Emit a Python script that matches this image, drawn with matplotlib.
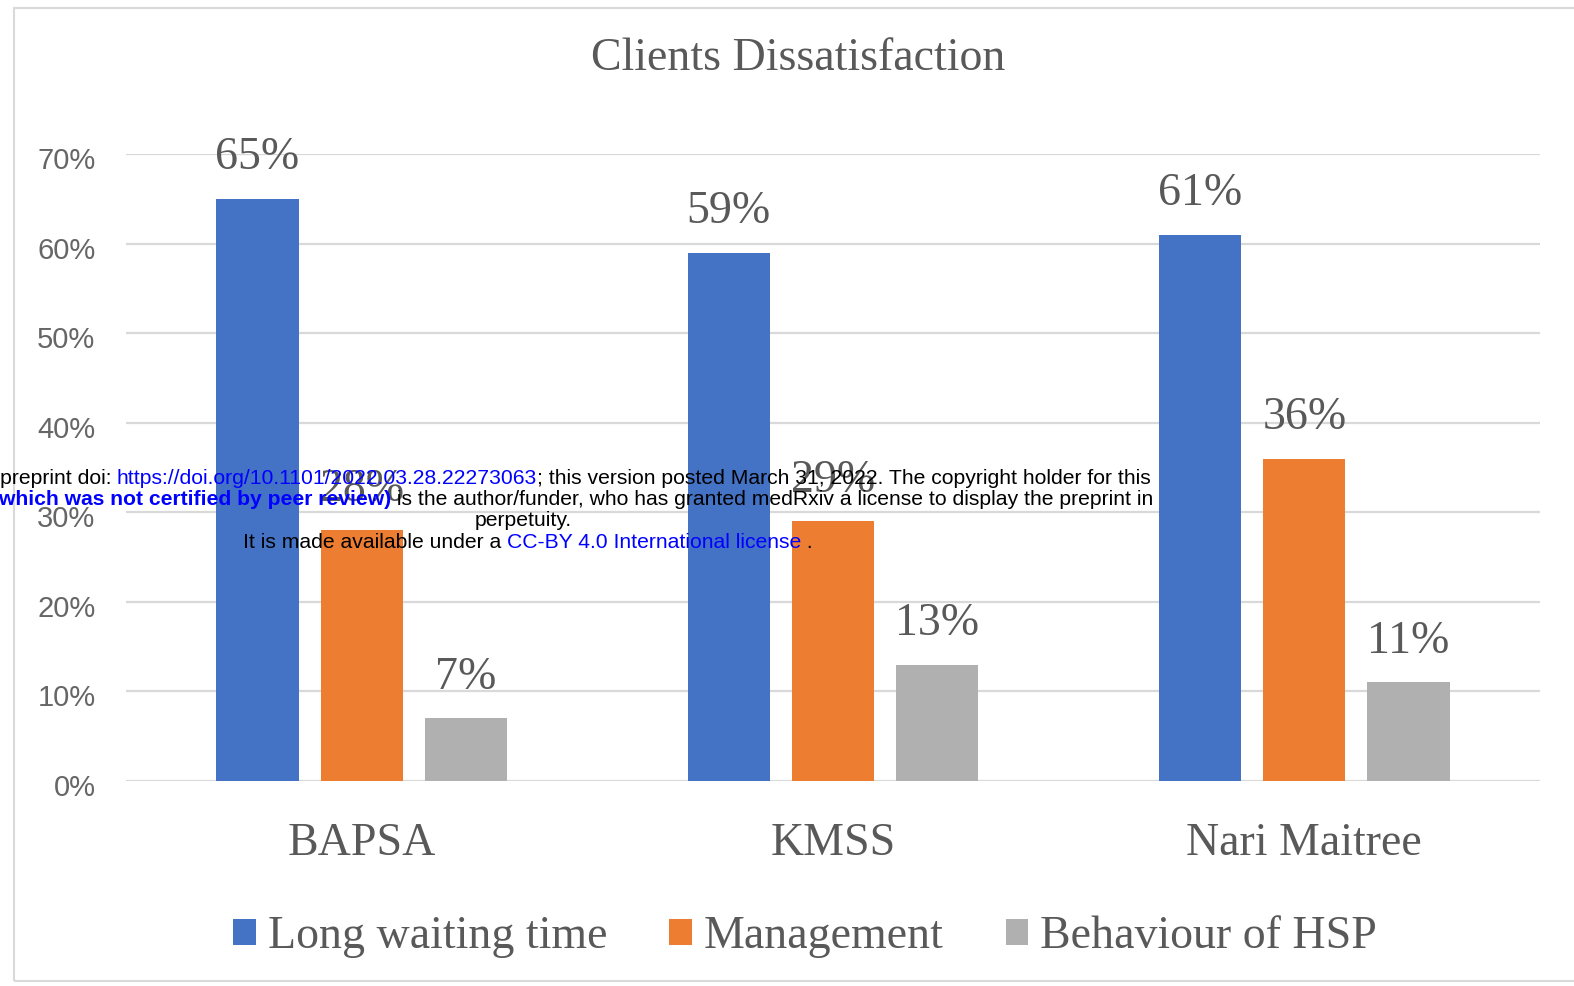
import matplotlib.pyplot as plt
from matplotlib.patches import Rectangle
from matplotlib.transforms import ScaledTranslation
import numpy as np

categories = ['BAPSA', 'KMSS', 'Nari Maitree']
series_names = ['Long waiting time', 'Management', 'Behaviour of HSP']
long_waiting = [65, 59, 61]
management = [28, 29, 36]
behaviour = [7, 13, 11]
yticks = [0, 10, 20, 30, 40, 50, 60, 70]

colors = ['#4472C4', '#ED7D31', '#B0B0B0']
text_gray = '#595959'
serif = 'Liberation Serif'

W, H = 1574, 986
fig = plt.figure(figsize=(W / 100, H / 100), dpi=100)

# chart frame
fig.patches.append(Rectangle((14 / W, 1 - 981 / H), 1.2, (981 - 8) / H,
                             transform=fig.transFigure, fill=False,
                             edgecolor='#D9D9D9', lw=1.5, zorder=0))

ax = fig.add_axes([126 / W, 1 - 781 / H, (1540 - 126) / W, (781 - 154) / H])

x = np.arange(len(categories))
width = 0.174
pitch = 0.221
for i, (vals, name) in enumerate(zip([long_waiting, management, behaviour], series_names)):
    bars = ax.bar(x + (i - 1) * pitch, vals, width, color=colors[i], label=name, zorder=2)
    for b, v in zip(bars, vals):
        ax.annotate(f'{v}%', (b.get_x() + b.get_width() / 2, v), xytext=(0, 14),
                    textcoords='offset points', ha='center', va='bottom',
                    fontsize=33, family=serif, color=text_gray, zorder=3)

ax.set_xlim(-0.5, 2.5)
ax.set_ylim(0, 70)
ax.set_yticks(yticks)
ax.set_yticklabels([f'{t}%' for t in yticks], fontsize=21, family='Liberation Sans', color='#666666')
ax.set_xticks(x)
ax.set_xticklabels(categories, fontsize=33, family=serif, color=text_gray)
ax.tick_params(axis='y', length=0, pad=22)
ax.tick_params(axis='x', length=0, pad=30)
# nudge the y labels down a little
for lbl in ax.get_yticklabels():
    lbl.set_transform(lbl.get_transform() + ScaledTranslation(0, -4 / 100, fig.dpi_scale_trans))
ax.grid(axis='y', color='#D9D9D9', lw=1.6, zorder=0)
ax.set_axisbelow(True)
for s in ax.spines.values():
    s.set_visible(False)

fig.text(798 / W, 1 - 59 / H, 'Clients Dissatisfaction', ha='center', va='center',
         fontsize=33, family=serif, color=text_gray)

fig.legend(loc='center', bbox_to_anchor=(805 / W, 1 - 937 / H), ncol=3, frameon=False,
           prop={'family': serif, 'size': 33}, labelcolor=text_gray,
           handlelength=0.5, handleheight=0.5, handletextpad=0.26, columnspacing=1.35)

# medRxiv stamp over the figure
blue = '#0000FF'
fs = 15.2


def chain(pieces, x_end, y_px):
    y = 1 - y_px / H
    nxt = None
    for txt, col, wt in reversed(pieces):
        if nxt is None:
            nxt = fig.text(x_end / W, y, txt, ha='right', va='baseline', fontsize=fs,
                           family='Liberation Sans', color=col, weight=wt, zorder=10)
        else:
            nxt = fig.add_artist(plt.Annotation(txt, xy=(0, y), xycoords=(nxt, fig.transFigure),
                                                ha='right', va='baseline', fontsize=fs,
                                                family='Liberation Sans', color=col, weight=wt,
                                                zorder=10, annotation_clip=False))


chain([('medRxiv preprint doi: ', 'black', 'normal'),
       ('https://doi.org/10.1101/2022.03.28.22273063', blue, 'normal'),
       ('; this version posted March 31, 2022. The copyright holder for this', 'black', 'normal')],
      1151, 484)
chain([('preprint ', 'black', 'normal'),
       ('(which was not certified by peer review)', blue, 'bold'),
       (' is the author/funder, who has granted medRxiv a license to display the preprint in', 'black', 'normal')],
      1153, 505)
fig.text(523 / W, 1 - 526 / H, 'perpetuity.', ha='center', va='baseline', fontsize=fs,
         family='Liberation Sans', color='black', zorder=10)
chain([('It is made available under a ', 'black', 'normal'),
       ('CC-BY 4.0 International license', blue, 'normal'),
       (' .', 'black', 'normal')],
      813, 548)

fig.savefig('out.png', dpi=100)
